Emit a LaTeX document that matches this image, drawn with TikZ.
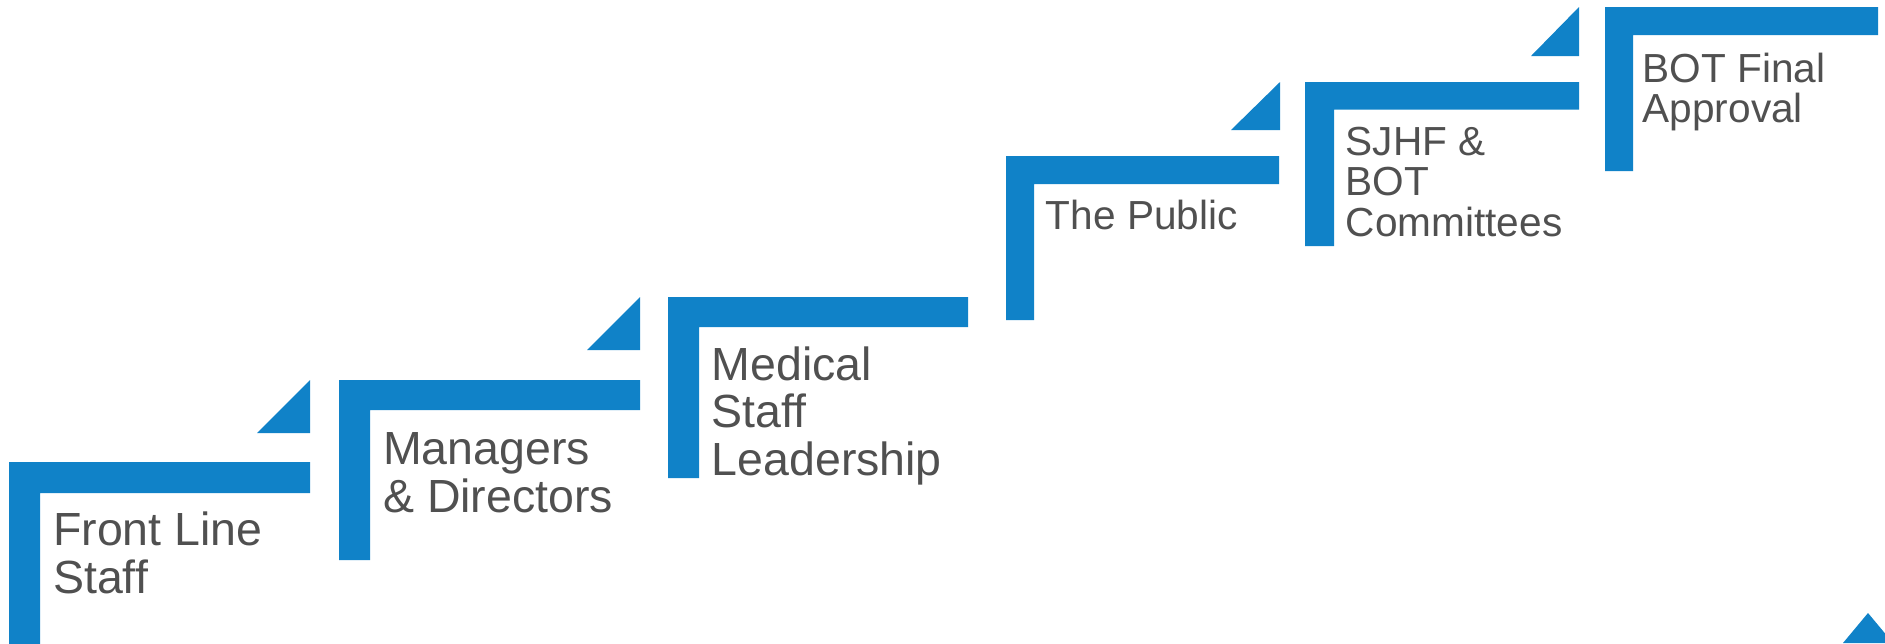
\documentclass[tikz,border=0pt]{standalone}
\usepackage{fontspec}
\setmainfont{Liberation Sans}
\definecolor{stepblue}{RGB}{16,130,200}
\definecolor{labelgray}{RGB}{80,80,80}

% L-shaped stair: #1 left, #2 top, #3 right end of tread, #4 bottom of riser,
% #5 lower edge of tread, #6 inner edge of riser
\newcommand{\stairL}[6]{%
  \fill[stair] (#1,#2) -- (#3,#2) -- (#3,#5) -- (#6,#5) -- (#6,#4) -- (#1,#4) -- cycle;}

\begin{document}
\begin{tikzpicture}[x=1pt,y=-1pt,
  stair/.style={fill=stepblue,draw=none},
  wedge/.style={fill=stepblue,draw=none},
  biglabel/.style={anchor=base west,inner sep=0pt,text=labelgray,
    font=\fontsize{46.5}{47.7}\selectfont},
  smalllabel/.style={anchor=base west,inner sep=0pt,text=labelgray,
    font=\fontsize{40.6}{40.6}\selectfont}]
\useasboundingbox (0,0) rectangle (1885,643);
\clip (0,0) rectangle (1885,643);

% stairs
\stairL{9}{462}{310}{660}{493}{40}
\stairL{339}{380}{640}{560}{410}{370}
\stairL{668}{297}{968}{478}{327}{699}
\stairL{1006}{156}{1279}{320}{184}{1034}
\stairL{1305}{82}{1579}{246}{109.5}{1334}
\stairL{1605}{7}{1878}{171}{35}{1633}

% corner wedges
\fill[wedge] (257,433) -- (310,380) -- (310,433) -- cycle;
\fill[wedge] (587,350) -- (640,297) -- (640,350) -- cycle;
\fill[wedge] (1231,130) -- (1280,82) -- (1280,130) -- cycle;
\fill[wedge] (1531,56) -- (1579,7) -- (1579,56) -- cycle;
\fill[wedge] (1843,643) -- (1868,613) -- (1893,643) -- cycle;

% labels
\node[biglabel] (frontline) at (53,545.7) {\vtop{\hbox{Front Line}\hbox{Staff}}};
\node[biglabel] (managers) at (383,464.3) {\vtop{\hbox{Managers}\hbox{\& Directors}}};
\node[biglabel] (medical) at (711.6,380) {\vtop{\hbox{Medical}\hbox{Staff}\hbox{Leadership}}};
\node[smalllabel] (public) at (1045.7,229.3) {The Public};
\node[smalllabel] (sjhf) at (1345.6,155) {\vtop{\hbox{SJHF \&}\hbox{BOT}\hbox{Committees}}};
\node[smalllabel] (botfinal) at (1642.5,82) {\vtop{\hbox{BOT Final}\hbox{Approval}}};
\end{tikzpicture}
\end{document}
